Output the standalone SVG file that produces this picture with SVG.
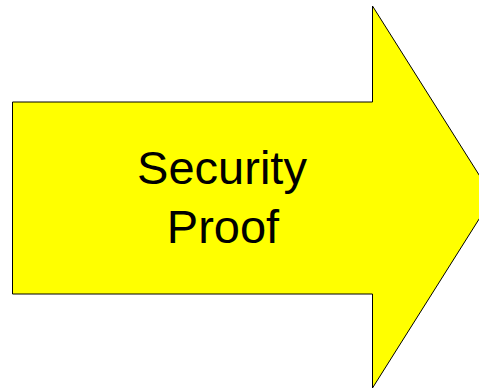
<svg xmlns="http://www.w3.org/2000/svg" width="479" height="389" viewBox="0 0 479 389">
<style>
.arrow{fill:#ffff00;stroke:#000;stroke-width:1}
.lbl{font-family:"Liberation Sans",Arial,sans-serif;font-size:47px;fill:#000;text-anchor:middle}
</style>
<rect width="479" height="389" fill="#fff"/>
<g id="security-proof">
<polygon class="arrow" points="12.5,102 372.5,102 372.5,6 493,197 372.5,388 372.5,294 12.5,294"/>
<text class="lbl" x="222" y="184">Security</text>
<text class="lbl" x="223" y="243">Proof</text>
</g>
</svg>
